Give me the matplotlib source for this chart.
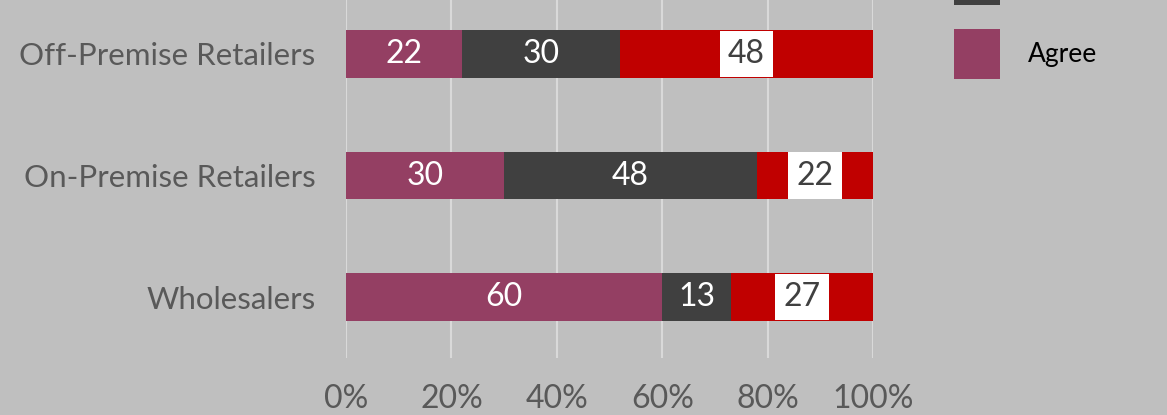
import matplotlib
matplotlib.use("Agg")
import matplotlib.pyplot as plt
import numpy as np

# Chart data (percent of respondents)
categories = ["Off-Premise Retailers", "On-Premise Retailers", "Wholesalers"]
agree = [22, 30, 60]
neutral = [30, 48, 13]
disagree = [48, 22, 27]
series_names = ["Disagree", "Neither", "Agree"]
tick_vals = [0, 20, 40, 60, 80, 100]

BG = "#BFBFBF"
PURPLE = "#943F63"
DARK = "#404040"
RED = "#C00000"
TXT = "#595959"

plt.rcParams["font.family"] = ["Lato", "DejaVu Sans"]

fig = plt.figure(figsize=(11.67, 4.15), dpi=100, facecolor=BG)
ax = fig.add_axes([346 / 1167, 1 - 358 / 415, (873 - 346) / 1167, 365 / 415])
ax.set_facecolor(BG)

y = np.arange(len(categories))
h = 0.39
left2 = np.array(agree) + np.array(neutral)

b_agree = ax.barh(y, agree, height=h, color=PURPLE, zorder=3)
b_neu = ax.barh(y, neutral, left=agree, height=h, color=DARK, zorder=3)
b_dis = ax.barh(y, disagree, left=left2, height=h, color=RED, zorder=3)

# value labels
lbl = 23
for i in range(len(categories)):
    ax.text(agree[i] / 2, y[i], str(agree[i]), ha="center", va="center",
            color="white", fontsize=lbl, zorder=4)
    ax.text(agree[i] + neutral[i] / 2, y[i], str(neutral[i]), ha="center", va="center",
            color="white", fontsize=lbl, zorder=4)
    ax.text(left2[i] + disagree[i] / 2, y[i], str(disagree[i]), ha="center", va="center",
            color=DARK, fontsize=lbl, zorder=4,
            bbox=dict(boxstyle="square,pad=0.26", facecolor="white", edgecolor="none"))

ax.set_xlim(0, 100)
ax.set_ylim(2.5, -0.5)
ax.set_xticks(tick_vals)
ax.set_xticklabels([f"{v}%" for v in tick_vals])
ax.set_yticks(y)
ax.set_yticklabels(categories)
ax.tick_params(axis="x", length=0, pad=19, labelsize=23, labelcolor=TXT)
ax.tick_params(axis="y", length=0, pad=22, labelsize=22.5, labelcolor=TXT)
ax.grid(axis="x", color="#D9D9D9", linewidth=1.5, zorder=0)
for s in ax.spines.values():
    s.set_visible(False)

# legend: big square swatches, only the bottom of the list shows in the crop
fs = 19
fpx = fs * 100 / 72
box_h = 50
hh = (box_h / fpx - 0.245) / 0.65
fig.legend([b_dis, b_neu, b_agree], series_names, loc="lower left",
           bbox_to_anchor=(954 / 1167, 1 - 79 / 415), frameon=False,
           fontsize=fs, handleheight=hh, handlelength=46 / fpx,
           labelspacing=24 / fpx, handletextpad=28 / fpx,
           borderpad=0, borderaxespad=0)

fig.savefig("out.png", dpi=100, facecolor=BG)
